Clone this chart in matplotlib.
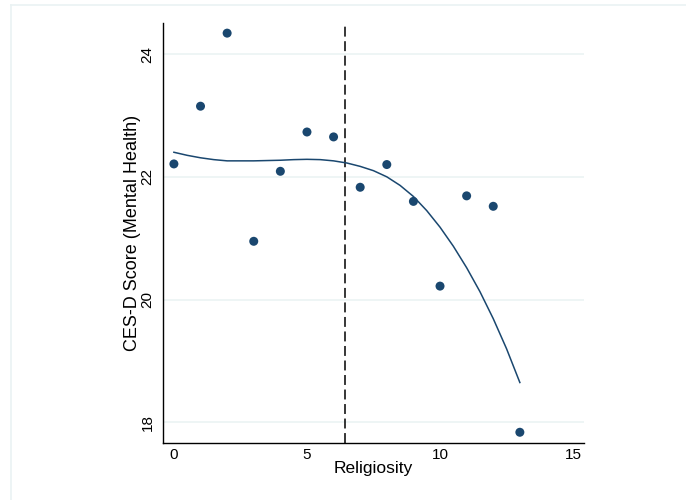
import matplotlib
matplotlib.use('Agg')
import matplotlib.pyplot as plt
from matplotlib.lines import Line2D

plt.rcParams['font.family'] = ['Liberation Sans', 'DejaVu Sans']

# mean CES-D score by religiosity level
religiosity = [0, 1, 2, 3, 4, 5, 6, 7, 8, 9, 10, 11, 12, 13]
cesd = [22.21, 23.15, 24.34, 20.95, 22.09, 22.73, 22.65,
        21.83, 22.20, 21.60, 20.22, 21.69, 21.52, 17.84]

# fitted curve
fit_x = [0, 0.5, 1, 1.5, 2, 3, 4, 4.5, 5, 5.5, 6, 6.5, 7, 7.5, 8, 8.5, 9, 9.5,
         10, 10.5, 11, 11.5, 12, 12.5, 13]
fit_y = [22.40, 22.35, 22.31, 22.28, 22.26, 22.26, 22.27, 22.28, 22.285, 22.28,
         22.26, 22.225, 22.17, 22.10, 22.00, 21.86, 21.68, 21.45, 21.18, 20.87,
         20.52, 20.13, 19.69, 19.20, 18.65]

cutoff = 6.42
xticks = [0, 5, 10, 15]
yticks = [18, 20, 22, 24]

NAVY = '#1a476f'
GRID = '#eaf2f3'

fig = plt.figure(figsize=(6.86, 5.0), dpi=100)
ax = fig.add_axes([0.2376, 0.1146, 0.6137, 0.84])

ax.plot(fit_x, fit_y, color=NAVY, lw=1.1, zorder=3)
ax.scatter(religiosity, cesd, s=42, color=NAVY, edgecolors='none', zorder=4)
ax.axvline(cutoff, color='black', lw=1.1, dashes=(6.5, 3), zorder=2)

ax.set_xlim(-0.41, 15.41)
ax.set_ylim(17.67, 24.51)
ax.set_xticks(xticks)
ax.set_yticks(yticks)
ax.set_yticklabels([str(t) for t in yticks], rotation=90, va='center')
ax.tick_params(length=0, labelsize=11, colors='black')
ax.tick_params(axis='x', pad=4)
ax.tick_params(axis='y', pad=6)
ax.grid(axis='y', color=GRID, lw=1.1)
ax.set_axisbelow(True)

for s in ['top', 'right']:
    ax.spines[s].set_visible(False)
for s in ['left', 'bottom']:
    ax.spines[s].set_linewidth(1.0)
    ax.spines[s].set_color('black')

ax.set_xlabel('Religiosity', fontsize=12.5, va='center')
ax.set_ylabel('CES-D Score (Mental Health)', fontsize=13, va='center')
ax.xaxis.set_label_coords(0.5, -0.062)
ax.yaxis.set_label_coords(-0.0713, 0.5)

# faint outer frame of the graph region
fig.add_artist(Line2D([11/686, 11/686], [0, 1 - 5/500], transform=fig.transFigure,
                      color=GRID, lw=1.2))
fig.add_artist(Line2D([11/686, 1], [1 - 5/500, 1 - 5/500], transform=fig.transFigure,
                      color=GRID, lw=1.2))

fig.savefig('out.png', dpi=100)
